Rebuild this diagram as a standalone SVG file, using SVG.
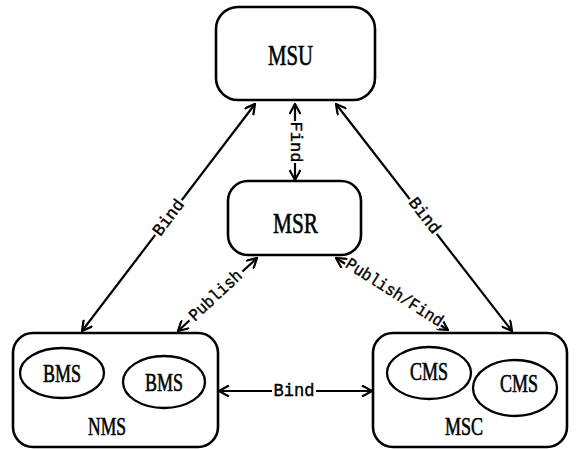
<svg xmlns="http://www.w3.org/2000/svg" width="576" height="449" viewBox="0 0 576 449">
<style>
.box{fill:none;stroke:#000;stroke-width:2.6}
.ell{fill:none;stroke:#000;stroke-width:2.3}
.nt{font-family:"Liberation Serif",serif;fill:#000;stroke:#000;stroke-width:0.6}
.ln{stroke:#000;stroke-width:2.2;fill:none;marker-start:url(#ah);marker-end:url(#ah)}
.lb{font-family:"Liberation Mono",monospace;font-size:17px;fill:#000;stroke:#000;stroke-width:0.4;text-anchor:middle;dominant-baseline:central}
.bg{fill:#fff}
</style>
<defs>
<marker id="ah" viewBox="0 0 12 12" refX="11" refY="6" markerWidth="12" markerHeight="12" markerUnits="userSpaceOnUse" orient="auto-start-reverse">
<path d="M1,0.5 L11,6 L1,11.5" fill="none" stroke="#000" stroke-width="2.2"/>
</marker>
</defs>
<rect width="576" height="449" fill="#fff"/>
<g id="connectors">
<line class="ln" x1="295" y1="104" x2="295" y2="180"/>
<line class="ln" x1="255" y1="104" x2="82" y2="331"/>
<line class="ln" x1="336" y1="104" x2="512" y2="331"/>
<line class="ln" x1="257" y1="258" x2="178" y2="331"/>
<line class="ln" x1="336" y1="258" x2="448" y2="330"/>
<line class="ln" x1="219" y1="391" x2="372" y2="391"/>
<g transform="translate(295,142) rotate(90)"><rect class="bg" x="-21" y="-7" width="42" height="14"/><text class="lb" x="0" y="0">Find</text></g>
<g transform="translate(169,218) rotate(-53)"><rect class="bg" x="-22" y="-7" width="44" height="14"/><text class="lb" x="0" y="0">Bind</text></g>
<g transform="translate(424,216) rotate(52.4)"><rect class="bg" x="-22" y="-7" width="44" height="14"/><text class="lb" x="0" y="0">Bind</text></g>
<g transform="translate(216,296) rotate(-43)"><rect class="bg" x="-36" y="-7" width="72" height="14"/><text class="lb" x="0" y="0" textLength="66" lengthAdjust="spacingAndGlyphs">Publish</text></g>
<g transform="translate(394,293) rotate(32.6)"><rect class="bg" x="-57" y="-7" width="114" height="14"/><text class="lb" x="0" y="0" textLength="112" lengthAdjust="spacingAndGlyphs">Publish/Find</text></g>
<g transform="translate(294,391)"><rect class="bg" x="-22" y="-8" width="44" height="16"/><text class="lb" x="0" y="0" style="font-size:18px" textLength="41" lengthAdjust="spacingAndGlyphs">Bind</text></g>
</g>
<g id="MSU">
<rect class="box" x="216" y="7" width="159" height="93" rx="22"/>
<text class="nt" x="268" y="65" font-size="30" textLength="45" lengthAdjust="spacingAndGlyphs">MSU</text>
</g>
<g id="MSR">
<rect class="box" x="228" y="181" width="133" height="74" rx="20"/>
<text class="nt" x="273" y="233" font-size="30" textLength="45" lengthAdjust="spacingAndGlyphs">MSR</text>
</g>
<g id="NMS">
<rect class="box" x="13" y="333" width="205" height="114" rx="20"/>
<text class="nt" x="88" y="435" font-size="25" textLength="38" lengthAdjust="spacingAndGlyphs">NMS</text>
</g>
<g id="BMS1">
<ellipse class="ell" cx="62" cy="373" rx="42" ry="25"/>
<text class="nt" x="43" y="382" font-size="26" textLength="38" lengthAdjust="spacingAndGlyphs">BMS</text>
</g>
<g id="BMS2">
<ellipse class="ell" cx="164" cy="382" rx="41" ry="26"/>
<text class="nt" x="145" y="391" font-size="26" textLength="38" lengthAdjust="spacingAndGlyphs">BMS</text>
</g>
<g id="MSC">
<rect class="box" x="373" y="333" width="194" height="114" rx="20"/>
<text class="nt" x="445" y="435" font-size="25" textLength="38" lengthAdjust="spacingAndGlyphs">MSC</text>
</g>
<g id="CMS1">
<ellipse class="ell" cx="429" cy="373" rx="42" ry="26"/>
<text class="nt" x="410" y="380" font-size="25" textLength="38" lengthAdjust="spacingAndGlyphs">CMS</text>
</g>
<g id="CMS2">
<ellipse class="ell" cx="515" cy="388" rx="42" ry="28"/>
<text class="nt" x="500" y="392" font-size="26" textLength="38" lengthAdjust="spacingAndGlyphs">CMS</text>
</g>
</svg>
